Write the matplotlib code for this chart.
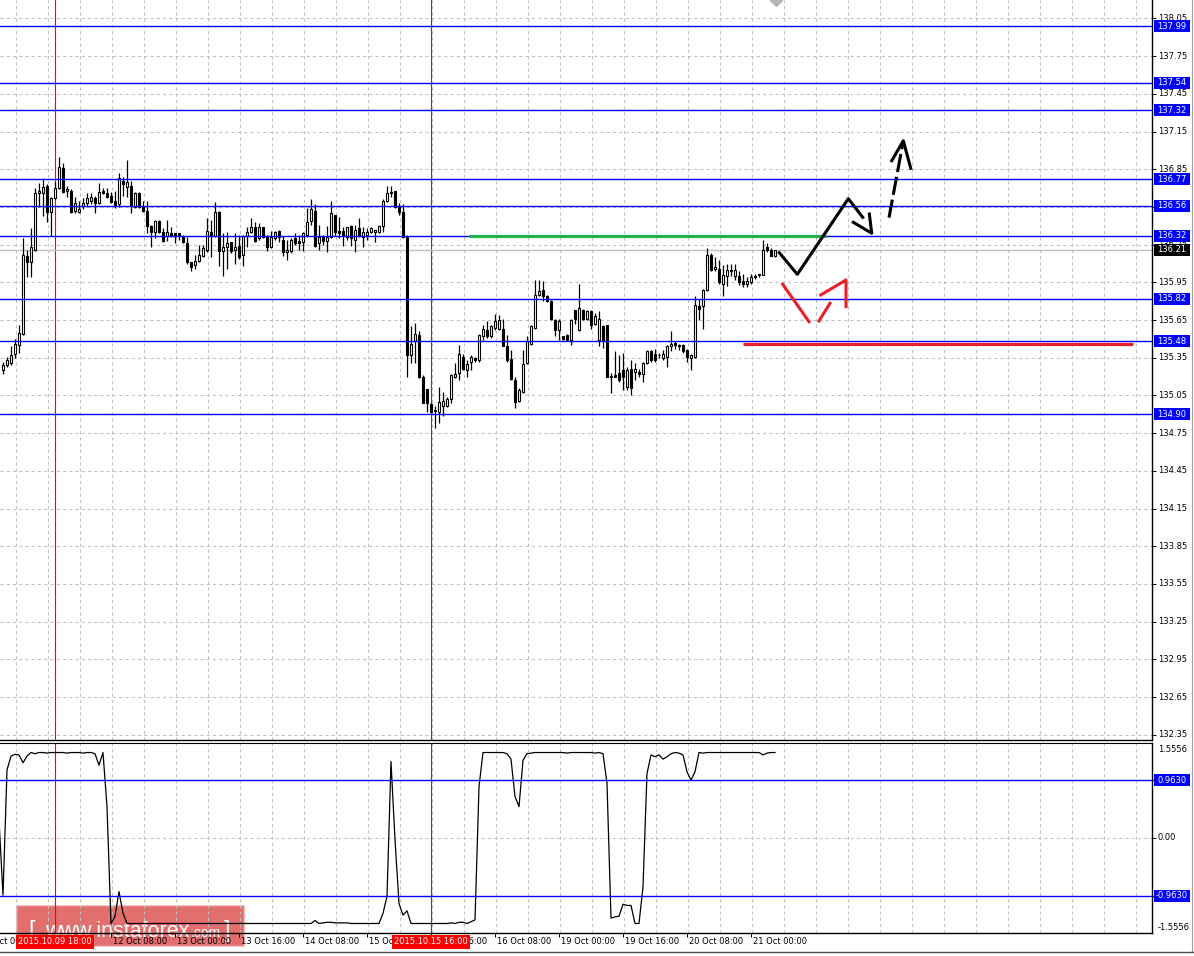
import matplotlib
matplotlib.use("Agg")
import matplotlib.pyplot as plt
import numpy as np
from matplotlib.patches import Rectangle
from matplotlib.lines import Line2D
from matplotlib import font_manager

# ── Hourly candles (bar 0 = first visible bar) ──
opens = [135.25, 135.29, 135.31, 135.38, 135.45, 135.54, 136.16, 136.11, 136.21, 136.66,
         136.66, 136.72, 136.51, 136.62, 136.70, 136.86, 136.68, 136.68, 136.52, 136.51,
         136.56, 136.58, 136.60, 136.62, 136.58, 136.68, 136.66, 136.64, 136.60, 136.57,
         136.76, 136.71, 136.72, 136.55, 136.66, 136.55, 136.52, 136.40, 136.35, 136.44,
         136.35, 136.32, 136.34, 136.34, 136.34, 136.32, 136.26, 136.11, 136.09, 136.12,
         136.16, 136.21, 136.35, 136.32, 136.51, 136.20, 136.23, 136.27, 136.21, 136.24,
         136.17, 136.32, 136.35, 136.39, 136.30, 136.39, 136.32, 136.23, 136.30, 136.36,
         136.29, 136.19, 136.20, 136.30, 136.28, 136.27, 136.33, 136.44, 136.52, 136.26,
         136.31, 136.28, 136.31, 136.49, 136.36, 136.36, 136.31, 136.40, 136.29, 136.38,
         136.31, 136.33, 136.35, 136.35, 136.35, 136.40, 136.60, 136.67, 136.68, 136.56,
         136.51, 136.31, 135.37, 135.48, 135.53, 135.20, 135.10, 134.98, 134.93, 134.92,
         134.97, 134.97, 135.02, 135.20, 135.23, 135.36, 135.25, 135.32, 135.35, 135.33,
         135.52, 135.57, 135.52, 135.59, 135.58, 135.58, 135.44, 135.34, 135.17, 135.01,
         135.08, 135.31, 135.46, 135.59, 135.85, 135.89, 135.84, 135.80, 135.65, 135.57,
         135.52, 135.53, 135.49, 135.73, 135.57, 135.73, 135.66, 135.72, 135.62, 135.49,
         135.60, 135.61, 135.20, 135.21, 135.23, 135.25, 135.12, 135.26, 135.24, 135.24,
         135.22, 135.31, 135.40, 135.38, 135.37, 135.35, 135.36, 135.44, 135.47, 135.45,
         135.45, 135.41, 135.35, 135.36, 135.76, 135.76, 135.89, 136.17, 136.06, 136.06,
         135.94, 136.00, 136.05, 136.00, 136.00, 135.96, 135.94, 135.95, 135.99, 136.01,
         136.01, 136.23, 136.21, 136.16]
highs = [135.32, 135.36, 135.44, 135.50, 135.61, 136.30, 136.21, 136.38, 136.70, 136.74,
         136.78, 136.73, 136.63, 136.75, 136.95, 136.90, 136.72, 136.69, 136.63, 136.60,
         136.62, 136.66, 136.66, 136.64, 136.74, 136.70, 136.70, 136.67, 136.68, 136.82,
         136.79, 136.92, 136.76, 136.67, 136.67, 136.60, 136.60, 136.41, 136.45, 136.45,
         136.38, 136.45, 136.39, 136.34, 136.34, 136.33, 136.31, 136.11, 136.17, 136.25,
         136.25, 136.46, 136.45, 136.59, 136.52, 136.34, 136.35, 136.27, 136.34, 136.33,
         136.33, 136.39, 136.46, 136.43, 136.42, 136.39, 136.33, 136.36, 136.36, 136.37,
         136.32, 136.29, 136.30, 136.34, 136.33, 136.35, 136.54, 136.61, 136.57, 136.41,
         136.33, 136.40, 136.60, 136.49, 136.47, 136.39, 136.39, 136.41, 136.41, 136.46,
         136.39, 136.38, 136.39, 136.37, 136.41, 136.61, 136.72, 136.72, 136.68, 136.58,
         136.57, 136.33, 135.60, 135.63, 135.56, 135.21, 135.10, 134.99, 134.97, 135.12,
         135.08, 135.04, 135.22, 135.31, 135.45, 135.38, 135.33, 135.37, 135.36, 135.54,
         135.61, 135.64, 135.61, 135.70, 135.69, 135.66, 135.53, 135.41, 135.20, 135.11,
         135.41, 135.52, 135.61, 135.97, 135.97, 135.96, 135.85, 135.81, 135.66, 135.66,
         135.52, 135.54, 135.66, 135.73, 135.94, 135.74, 135.73, 135.73, 135.71, 135.72,
         135.61, 135.61, 135.23, 135.40, 135.37, 135.39, 135.28, 135.33, 135.31, 135.26,
         135.32, 135.41, 135.41, 135.42, 135.39, 135.41, 135.45, 135.56, 135.48, 135.46,
         135.46, 135.42, 135.38, 135.84, 135.82, 135.90, 136.22, 136.18, 136.15, 136.13,
         136.09, 136.10, 136.10, 136.10, 136.04, 136.02, 135.99, 136.02, 136.02, 136.02,
         136.29, 136.26, 136.22, 136.21]
lows = [135.22, 135.28, 135.29, 135.35, 135.39, 135.53, 135.99, 135.99, 136.20, 136.55,
        136.48, 136.43, 136.32, 136.61, 136.69, 136.66, 136.63, 136.50, 136.50, 136.50,
        136.53, 136.55, 136.57, 136.50, 136.57, 136.65, 136.62, 136.58, 136.54, 136.55,
        136.64, 136.63, 136.50, 136.54, 136.54, 136.51, 136.34, 136.23, 136.30, 136.34,
        136.27, 136.28, 136.31, 136.26, 136.29, 136.26, 136.10, 136.04, 136.06, 136.11,
        136.15, 136.19, 136.15, 136.31, 136.08, 136.00, 136.06, 136.18, 136.10, 136.14,
        136.08, 136.23, 136.34, 136.27, 136.29, 136.30, 136.20, 136.22, 136.29, 136.27,
        136.16, 136.13, 136.18, 136.25, 136.21, 136.20, 136.31, 136.41, 136.23, 136.21,
        136.25, 136.19, 136.30, 136.32, 136.30, 136.24, 136.29, 136.24, 136.19, 136.31,
        136.23, 136.29, 136.34, 136.27, 136.34, 136.35, 136.59, 136.63, 136.54, 136.49,
        136.30, 135.20, 135.31, 135.31, 135.19, 134.99, 134.92, 134.91, 134.79, 134.83,
        134.89, 134.96, 134.99, 135.19, 135.17, 135.25, 135.20, 135.25, 135.32, 135.32,
        135.49, 135.51, 135.51, 135.57, 135.57, 135.44, 135.32, 135.17, 134.95, 135.00,
        135.07, 135.30, 135.45, 135.58, 135.84, 135.80, 135.79, 135.65, 135.52, 135.49,
        135.49, 135.48, 135.45, 135.62, 135.56, 135.65, 135.65, 135.58, 135.61, 135.44,
        135.43, 135.20, 135.07, 135.20, 135.16, 135.09, 135.09, 135.05, 135.17, 135.20,
        135.16, 135.30, 135.32, 135.32, 135.35, 135.33, 135.28, 135.40, 135.42, 135.41,
        135.39, 135.32, 135.25, 135.35, 135.65, 135.58, 135.88, 136.04, 136.04, 135.94,
        135.84, 135.92, 136.00, 135.97, 135.93, 135.91, 135.91, 135.94, 135.98, 135.99,
        136.01, 136.19, 136.16, 136.15]
closes = [135.29, 135.33, 135.37, 135.46, 135.55, 136.17, 136.11, 136.23, 136.66, 136.68,
          136.71, 136.51, 136.62, 136.70, 136.87, 136.67, 136.69, 136.51, 136.58, 136.53,
          136.58, 136.62, 136.63, 136.58, 136.67, 136.66, 136.63, 136.59, 136.56, 136.78,
          136.73, 136.75, 136.56, 136.66, 136.55, 136.52, 136.40, 136.35, 136.44, 136.35,
          136.28, 136.35, 136.32, 136.32, 136.32, 136.27, 136.11, 136.07, 136.12, 136.17,
          136.22, 136.36, 136.32, 136.51, 136.20, 136.23, 136.26, 136.20, 136.23, 136.15,
          136.32, 136.35, 136.39, 136.28, 136.39, 136.31, 136.23, 136.31, 136.35, 136.31,
          136.19, 136.21, 136.29, 136.26, 136.26, 136.34, 136.43, 136.53, 136.24, 136.31,
          136.28, 136.31, 136.50, 136.35, 136.34, 136.33, 136.39, 136.30, 136.37, 136.32,
          136.35, 136.35, 136.38, 136.37, 136.40, 136.60, 136.66, 136.66, 136.55, 136.51,
          136.31, 135.37, 135.46, 135.54, 135.20, 134.99, 134.99, 134.92, 134.93, 135.00,
          135.01, 135.02, 135.21, 135.22, 135.38, 135.26, 135.30, 135.36, 135.33, 135.53,
          135.58, 135.52, 135.60, 135.64, 135.65, 135.44, 135.33, 135.18, 135.00, 135.09,
          135.30, 135.48, 135.60, 135.85, 135.88, 135.84, 135.80, 135.66, 135.57, 135.64,
          135.50, 135.49, 135.65, 135.66, 135.75, 135.66, 135.72, 135.61, 135.68, 135.66,
          135.49, 135.20, 135.20, 135.20, 135.17, 135.20, 135.25, 135.11, 135.26, 135.22,
          135.31, 135.40, 135.33, 135.33, 135.37, 135.38, 135.44, 135.46, 135.45, 135.44,
          135.40, 135.36, 135.37, 135.77, 135.74, 135.89, 136.17, 136.05, 136.07, 135.95,
          136.01, 136.05, 136.04, 136.05, 135.95, 135.94, 135.96, 135.99, 136.00, 136.01,
          136.21, 136.21, 136.16, 136.21]

# oscillator, starts one bar before the first candle
indicator = [0.30, -0.95, 1.13, 1.36, 1.39, 1.38, 1.25, 1.36, 1.42, 1.40,
             1.42, 1.42, 1.41, 1.42, 1.42, 1.42, 1.42, 1.41, 1.42, 1.42,
             1.42, 1.41, 1.42, 1.42, 1.40, 1.21, 1.42, 0.52, -1.42, -1.30,
             -0.89, -1.25, -1.42, -1.42, -1.42, -1.42, -1.42, -1.42, -1.42, -1.42,
             -1.42, -1.42, -1.42, -1.42, -1.42, -1.42, -1.42, -1.42, -1.42, -1.42,
             -1.42, -1.42, -1.42, -1.42, -1.42, -1.42, -1.42, -1.42, -1.42, -1.42,
             -1.42, -1.42, -1.42, -1.42, -1.42, -1.42, -1.42, -1.42, -1.42, -1.42,
             -1.42, -1.42, -1.42, -1.42, -1.42, -1.42, -1.42, -1.42, -1.42, -1.37,
             -1.42, -1.41, -1.40, -1.40, -1.41, -1.41, -1.41, -1.41, -1.42, -1.42,
             -1.42, -1.42, -1.42, -1.42, -1.42, -1.42, -1.25, -0.97, 1.27, -0.03,
             -1.09, -1.28, -1.21, -1.42, -1.42, -1.42, -1.42, -1.42, -1.42, -1.42,
             -1.42, -1.42, -1.42, -1.41, -1.42, -1.40, -1.40, -1.42, -1.39, -1.36,
             0.85, 1.42, 1.42, 1.42, 1.42, 1.42, 1.42, 1.40, 1.31, 0.69,
             0.52, 1.29, 1.40, 1.41, 1.42, 1.42, 1.42, 1.42, 1.42, 1.42,
             1.42, 1.42, 1.41, 1.42, 1.42, 1.42, 1.42, 1.42, 1.42, 1.41,
             1.42, 1.40, 0.91, -1.33, -1.31, -1.30, -1.10, -1.12, -1.12, -1.42,
             -1.42, -0.81, 1.07, 1.38, 1.35, 1.38, 1.31, 1.35, 1.40, 1.42,
             1.41, 1.38, 1.10, 0.96, 1.10, 1.42, 1.41, 1.42, 1.42, 1.42,
             1.42, 1.42, 1.42, 1.42, 1.42, 1.42, 1.42, 1.42, 1.42, 1.42,
             1.42, 1.38, 1.41, 1.42, 1.42]

levels = [137.99, 137.54, 137.32, 136.77, 136.56, 136.32, 135.82, 135.48, 134.90]
last_price = 136.21
price_ticks = [round(138.05 - 0.30 * k, 2) for k in range(20)]
ind_levels = [0.963, -0.963]
ind_level_labels = ["0.9630", "-0.9630"]

time_bars = [-5, 27, 43, 59, 75, 91, 107, 123, 139, 155, 171, 187]
time_labels = ["9 Oct 00:00", "12 Oct 08:00", "13 Oct 00:00", "13 Oct 16:00", "14 Oct 08:00",
               "15 Oct 00:00", "15 Oct 16:00", "16 Oct 08:00", "19 Oct 00:00", "19 Oct 16:00",
               "20 Oct 08:00", "21 Oct 00:00"]
marked_bars = [13, 107]
marked_labels = ["2015.10.09 18:00", "2015.10.15 16:00"]

# hand-drawn forecast marks (bar index, price)
green_x, green_y = [116.5, 205.75], [136.32, 136.32]
redline_x, redline_y = [185.1, 282.5], [135.46, 135.46]
black_x = [194.08, 198.58, 211.33, 214.93]
black_y = [136.186, 136.014, 136.616, 136.468]
black_head_x = [212.58, 217.18, 216.58]
black_head_y = [136.428, 136.341, 136.494]
dash_x, dash_y = [221.5, 225.08], [136.465, 137.077]
dash_head_x = [222.18, 225.08, 226.93]
dash_head_y = [136.918, 137.077, 136.858]
red1_x, red1_y = [194.93, 201.5], [135.935, 135.637]
red2_x, red2_y = [204.0, 206.75], [135.643, 135.784]
red_head_x = [204.43, 210.75, 210.75]
red_head_y = [135.850, 135.969, 135.757]

# ── layout ──
W, H = 1194, 956
FS = 6
fig = plt.figure(figsize=(W / 100, H / 100), dpi=100)
fig.patch.set_facecolor("white")
ax = fig.add_axes([0, 1 - 740 / H, 1152 / W, 740 / H])
axi = fig.add_axes([0, 1 - 933 / H, 1152 / W, 190 / H])
for a in (ax, axi):
    a.patch.set_alpha(0)

xlim = (-0.75, 287.25)
ytop = 138.197
ppu = 125.67
ylim_main = (ytop - 740 / ppu, ytop)
ylim_ind = (-1.578, 1.578)
ippu = 190 / (ylim_ind[1] - ylim_ind[0])

grid_kw = dict(color="#c0c0c0", lw=0.75, ls=(0, (3, 3)), zorder=0)
for a in (ax, axi):
    for s in ("left", "top"):
        a.spines[s].set_visible(False)
    for s in ("right", "bottom"):
        a.spines[s].set_linewidth(1.0)
        a.spines[s].set_color("black")
    for gx in np.arange(3.2, 287, 8):
        a.axvline(gx, **grid_kw)
    for mb in marked_bars:
        a.axvline(mb, color="#ff0000", lw=0.8, zorder=1)
axi.spines["top"].set_visible(True)
for t in price_ticks:
    ax.axhline(t, **grid_kw)
axi.axhline(0, **grid_kw)

# candles
bars = np.arange(len(opens))
ax.vlines(bars, lows, highs, color="black", lw=0.9, zorder=2)
for i in bars:
    o, c = opens[i], closes[i]
    lo, hi = min(o, c), max(o, c)
    fc = "white" if c >= o else "black"
    ax.add_patch(Rectangle((i - 0.32, lo), 0.64, max(hi - lo, 0.003), facecolor=fc,
                           edgecolor="black", lw=0.8, zorder=3))

# levels
ax.axhline(last_price, color="#c0c0c0", lw=1.0, zorder=1)
for lv in levels:
    ax.axhline(lv, color="#0000ff", lw=1.0, zorder=4)

# forecast drawings
ax.plot(green_x, green_y, color="#22b14c", lw=2.3, solid_capstyle="butt", zorder=5)
ax.plot(redline_x, redline_y, color="#e8202a", lw=2.3, solid_capstyle="butt", zorder=5)
ax.plot(black_x, black_y, color="black", lw=2.2, zorder=6)
ax.plot(black_head_x, black_head_y, color="black", lw=2.2, zorder=6)
ax.plot(dash_x, dash_y, color="black", lw=2.2, ls=(0, (6, 1.6)), zorder=6)
ax.plot(dash_head_x, dash_head_y, color="black", lw=2.2, zorder=6)
ax.plot(red1_x, red1_y, color="#e8202a", lw=2.2, zorder=6)
ax.plot(red2_x, red2_y, color="#e8202a", lw=2.2, zorder=6)
ax.plot(red_head_x, red_head_y, color="#e8202a", lw=2.2, zorder=6)
ax.plot([bars[-1] + 0.25], [ytop], marker="D", ms=6, color="#b4b4b4", zorder=6)

# right price scale
ax.set_xticks([])
ax.set_yticks(price_ticks)
ax.tick_params(axis="y", left=False, right=True, labelleft=False, labelright=False,
               length=3, width=0.7)
ax.set_xlim(*xlim)
ax.set_ylim(*ylim_main)
ytr = ax.get_yaxis_transform()
xl = 1158 / 1152
for t in price_ticks:
    ax.text(xl, t, f"{t:.2f}", transform=ytr, ha="left", va="center", fontsize=FS,
            clip_on=False, zorder=7)
bw, bh = 36 / 1152, 12 / ppu
for lv in levels:
    ax.add_patch(Rectangle((1154 / 1152, lv - bh / 2), bw, bh, transform=ytr,
                           facecolor="#0000ff", edgecolor="none", clip_on=False, zorder=8))
    ax.text(1172 / 1152, lv, f"{lv:.2f}", transform=ytr, ha="center", va="center",
            fontsize=FS, color="white", clip_on=False, zorder=9)
ax.add_patch(Rectangle((1154 / 1152, last_price - bh / 2), bw, bh, transform=ytr,
                       facecolor="black", edgecolor="none", clip_on=False, zorder=8))
ax.text(1172 / 1152, last_price, f"{last_price:.2f}", transform=ytr, ha="center",
        va="center", fontsize=FS, color="white", clip_on=False, zorder=9)

# oscillator
axi.plot(np.arange(-1, len(indicator) - 1), indicator, color="black", lw=0.9, zorder=3)
for lv in ind_levels:
    axi.axhline(lv, color="#0000ff", lw=1.0, zorder=4)
axi.set_yticks([-0.963, 0, 0.963])
axi.tick_params(axis="y", left=False, right=True, labelleft=False, labelright=False,
                length=3, width=0.7)
axi.set_xticks(time_bars)
axi.tick_params(axis="x", length=3, width=0.7, labelbottom=False)
axi.set_xlim(*xlim)
axi.set_ylim(*ylim_ind)
itr = axi.get_yaxis_transform()
axi.text(xl, 0, "0.00", transform=itr, ha="left", va="center", fontsize=FS, clip_on=False)
axi.text(xl, (933 - 750) / 190, "1.5556", transform=axi.transAxes, ha="left", va="center",
         fontsize=FS, clip_on=False)
axi.text(xl, (933 - 927) / 190, "-1.5556", transform=axi.transAxes, ha="left", va="center",
         fontsize=FS, clip_on=False)
ibh = 12 / ippu
for lv, lab in zip(ind_levels, ind_level_labels):
    axi.add_patch(Rectangle((1154 / 1152, lv - ibh / 2), bw, ibh, transform=itr,
                            facecolor="#0000ff", edgecolor="none", clip_on=False, zorder=8))
    axi.text(1172 / 1152, lv, lab, transform=itr, ha="center", va="center", fontsize=FS,
             color="white", clip_on=False, zorder=9)

# time axis
xtr = axi.get_xaxis_transform()
for b, lab in zip(time_bars, time_labels):
    axi.text(b + 0.5, -9 / 190, lab, transform=xtr, ha="left", va="center", fontsize=FS,
             clip_on=False, zorder=7)
for b, lab in zip(marked_bars, marked_labels):
    axi.text(b, -9 / 190, lab, transform=xtr, ha="center", va="center", fontsize=FS,
             color="white", clip_on=False, zorder=10,
             bbox=dict(boxstyle="square,pad=0.3", fc="#ff0000", ec="none"))

# window frame
fig.add_artist(Line2D([1192 / W] * 2, [1 - 952 / H, 1], color="#a0a0a0", lw=0.8))
fig.add_artist(Line2D([0, 1], [1 - 952 / H] * 2, color="#505050", lw=1.0))

# watermark (drawn beneath the transparent axes so the date boxes stay on top)
names = {f.name for f in font_manager.fontManager.ttflist}
if "Liberation Sans Narrow" in names:
    wfam, s1, s2 = "Liberation Sans Narrow", 19, 12.5
else:
    wfam, s1, s2 = "Liberation Sans", 15.5, 10
fig.add_artist(Rectangle((17 / W, 1 - 946 / H), 227 / W, 40 / H, transform=fig.transFigure,
                         facecolor=(0.86, 0.27, 0.27), alpha=0.78,
                         edgecolor=(0.95, 0.6, 0.6), lw=1.2, zorder=-2))
yb = 1 - 937 / H
for xp, s, fs in [(28, "[", 17), (45, "www.instaforex", s1), (191, ".com", s2), (224, "]", 17)]:
    t = fig.text(xp / W, yb, s, fontsize=fs, family=wfam, color="white", va="baseline")
    t.set_zorder(-1)

fig.savefig("out.png", dpi=100, facecolor="white")
